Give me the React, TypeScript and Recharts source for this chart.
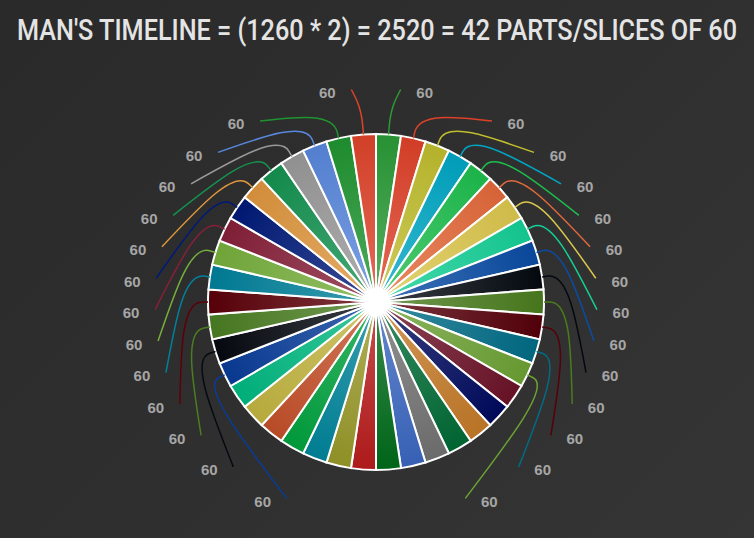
import React from "react";
import { PieChart, Pie, Cell } from "recharts";

const TITLE = "MAN'S TIMELINE = (1260 * 2) = 2520 = 42 PARTS/SLICES OF 60";

const VALUES = [
  60, 60, 60, 60, 60, 60, 60, 60, 60, 60, 60, 60, 60, 60,
  60, 60, 60, 60, 60, 60, 60, 60, 60, 60, 60, 60, 60, 60,
  60, 60, 60, 60, 60, 60, 60, 60, 60, 60, 60, 60, 60, 60,
];

const COLORS = [
  "#2a9a36", "#de4128", "#c0bd2e", "#00a6c4", "#1ebe4e", "#e4693a", "#dcc74e",
  "#14cf96", "#0a4ca4", "#040910", "#4a7c1e", "#56000a", "#006c86", "#6ca234",
  "#6c1228", "#000a5e", "#c47a28", "#006a34", "#727272", "#3a66c0", "#006a1a",
  "#b81c1c", "#98982a", "#00849a", "#00a23e", "#c4502a", "#c2b440", "#00b880",
  "#083c98", "#050a10", "#4a7e22", "#5c0008", "#00809a", "#76ae3c", "#862039",
  "#001a78", "#de963e", "#149250", "#999999", "#5887dc", "#1f9430", "#de432a",
];

const data = VALUES.map((v, i) => ({ name: `Part ${i + 1}`, value: v }));

const N = VALUES.length;
const STEP = 360 / N;
const RAD = Math.PI / 180;
const LABELED_PER_SIDE = 14;

function mix(hex: string, target: string, t: number) {
  const a = parseInt(hex.slice(1), 16);
  const b = parseInt(target.slice(1), 16);
  const ch = (x: number, s: number) => (x >> s) & 255;
  const m = (s: number) => Math.round(ch(a, s) + (ch(b, s) - ch(a, s)) * t);
  return `rgb(${m(16)},${m(8)},${m(0)})`;
}

function polar(cx: number, cy: number, r: number, angle: number) {
  return { x: cx + r * Math.cos(-angle * RAD), y: cy + r * Math.sin(-angle * RAD) };
}

function indexFromAngle(midAngle: number) {
  let i = Math.round((90 - midAngle) / STEP - 0.5);
  i = ((i % N) + N) % N;
  return i;
}

// label layout: evenly spaced rows on a rounded curve around the pie
function labelPos(i: number, cx: number, cy: number) {
  let side = 0;
  let j = -1;
  if (i < LABELED_PER_SIDE) {
    side = 1;
    j = i;
  } else if (i >= N - LABELED_PER_SIDE) {
    side = -1;
    j = N - 1 - i;
  }
  if (side === 0) return null;
  const y = cy - 209.5 + 31.45 * j;
  const a = 245;
  const b = 217;
  const p = 2.1;
  const dy = Math.min(Math.abs(y - (cy + 4)) / b, 1);
  const dx = a * Math.pow(1 - Math.pow(dy, p), 1 / p);
  return { x: cx + side * dx, y, side };
}

const renderLabel = (props: any) => {
  const { cx, cy, midAngle } = props;
  const i = indexFromAngle(midAngle);
  const pos = labelPos(i, cx, cy);
  if (!pos) return <g key={`l${i}`} />;
  return (
    <text
      key={`l${i}`}
      x={pos.x}
      y={pos.y + 5.5}
      textAnchor="middle"
      fill="#a6a6a6"
      fontFamily="'Liberation Sans', Arial, sans-serif"
      fontWeight="bold"
      fontSize={15}
    >
      {VALUES[i]}
    </text>
  );
};

const renderLine = (props: any) => {
  const { cx, cy, midAngle, outerRadius } = props;
  const i = indexFromAngle(midAngle);
  const pos = labelPos(i, cx, cy);
  if (!pos) return <g key={`ll${i}`} />;
  const p0 = polar(cx, cy, outerRadius, midAngle);
  const pa = polar(cx, cy, outerRadius + 6, midAngle);
  const pb = polar(cx, cy, outerRadius + 26, midAngle);
  const p3 = { x: pos.x - pos.side * 24, y: pos.y - 3 };
  const pc = { x: pb.x + (p3.x - pb.x) * 0.45, y: pb.y + (p3.y - pb.y) * 0.45 };
  const d = `M${p0.x},${p0.y} L${pa.x},${pa.y} C${pb.x},${pb.y} ${pc.x},${pc.y} ${p3.x},${p3.y}`;
  return (
    <path
      key={`ll${i}`}
      d={d}
      fill="none"
      stroke={COLORS[i]}
      strokeWidth={1.5}
    />
  );
};

const CX = 376;
const CY = 302;
const R = 168;
const TITLE_SX = 0.87;

export default function App() {
  return (
    <div
      style={{
        position: "absolute",
        left: 0,
        top: 0,
        width: 754,
        height: 538,
        background: "linear-gradient(135deg, #2a2a2a 0%, #2f2f2f 50%, #353535 100%)",
        overflow: "hidden",
      }}
    >
      <svg
        width={754}
        height={70}
        style={{ position: "absolute", left: 0, top: 0 }}
      >
        <g transform={`scale(${TITLE_SX},1)`}>
          <text
            x={377 / TITLE_SX}
            y={40}
            textAnchor="middle"
            textLength={720 / TITLE_SX}
            lengthAdjust="spacingAndGlyphs"
            fill="#e4e4e4"
            fontFamily="Roboto, 'Liberation Sans', sans-serif"
            fontWeight={500}
            fontSize={29}
          >
            {TITLE}
          </text>
        </g>
      </svg>
      <div style={{ position: "absolute", left: 0, top: 0 }}>
        <PieChart width={754} height={538} margin={{ top: 0, right: 0, bottom: 0, left: 0 }}>
          <defs>
            {COLORS.map((c, i) => (
              <radialGradient
                key={i}
                id={`sg${i}`}
                gradientUnits="userSpaceOnUse"
                cx={CX}
                cy={CY}
                r={R}
              >
                <stop offset="0%" stopColor={mix(c, "#ffffff", 0.22)} />
                <stop offset="100%" stopColor={mix(c, "#000000", 0.06)} />
              </radialGradient>
            ))}
          </defs>
          <Pie
            data={data}
            dataKey="value"
            nameKey="name"
            cx={CX}
            cy={CY}
            innerRadius={0}
            outerRadius={R}
            startAngle={90}
            endAngle={-270}
            stroke="#ffffff"
            strokeWidth={2}
            label={renderLabel}
            labelLine={renderLine}
            isAnimationActive={false}
          >
            {data.map((_, i) => (
              <Cell key={i} fill={`url(#sg${i})`} />
            ))}
          </Pie>
        </PieChart>
      </div>
    </div>
  );
}
